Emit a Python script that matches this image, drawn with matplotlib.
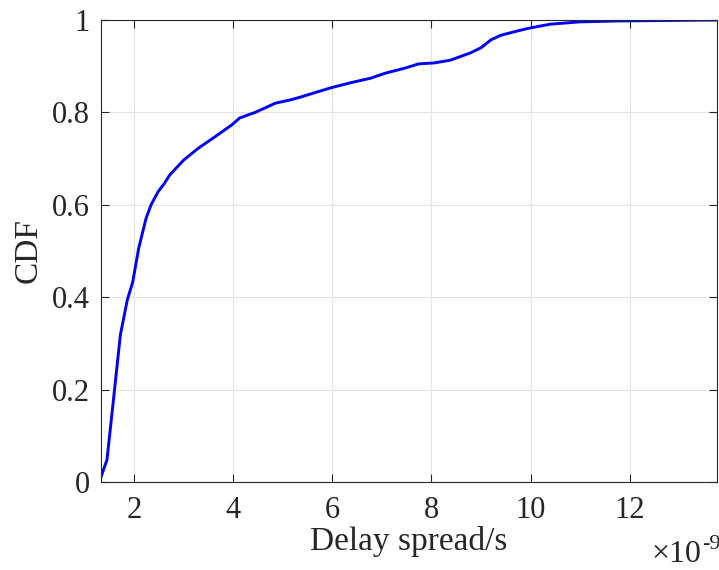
import numpy as np
import matplotlib.pyplot as plt

plt.rcParams['font.family'] = ['Liberation Serif', 'DejaVu Serif']

# delay spread in ns (axis multiplier 1e-9) and CDF values
delay_ns = [1.33, 1.45, 1.58, 1.72, 1.86, 1.97, 2.09, 2.24, 2.34, 2.48, 2.6, 2.72,
            3.0, 3.3, 3.6, 3.97, 4.13, 4.44, 4.85, 5.15, 5.35, 5.96, 6.36, 6.77,
            7.07, 7.47, 7.74, 8.05, 8.38, 8.79, 9.0, 9.2, 9.4, 9.8, 10.0, 10.4,
            11.0, 11.8, 13.76]
cdf = [0.011, 0.048, 0.177, 0.318, 0.394, 0.433, 0.506, 0.571, 0.6, 0.628, 0.645, 0.665,
       0.697, 0.723, 0.745, 0.773, 0.788, 0.80, 0.82, 0.827, 0.833, 0.853, 0.864, 0.874,
       0.885, 0.896, 0.905, 0.907, 0.913, 0.929, 0.94, 0.957, 0.967, 0.978, 0.983, 0.991,
       0.996, 0.998, 1.0]

xticks = [2, 4, 6, 8, 10, 12]
yticks = [0, 0.2, 0.4, 0.6, 0.8, 1]
yticklabels = ['0', '0.2', '0.4', '0.6', '0.8', '1']

fig = plt.figure(figsize=(7.19, 5.70), dpi=100)
ax = fig.add_axes([0.1405, 0.1544, 0.8565, 0.8105])

ax.plot(delay_ns, cdf, color='#0000ff', linewidth=2.1)

ax.set_xlim(1.33, 13.76)
ax.set_ylim(0, 1)
ax.set_xticks(xticks)
ax.set_yticks(yticks)
ax.set_yticklabels(yticklabels)
ax.tick_params(direction='in', length=6, width=0.8, labelsize=22, colors='#262626',
               top=True, right=True)
ax.tick_params(axis='x', pad=10)
ax.tick_params(axis='y', pad=8)
ax.grid(True, color='#e3e3e3', linewidth=0.8)
ax.set_axisbelow(True)
for s in ax.spines.values():
    s.set_color('#262626')
    s.set_linewidth(0.8)

ax.set_xlabel('Delay spread/s', fontsize=24, color='#262626', labelpad=1)
ax.set_ylabel('CDF', fontsize=24, color='#262626', labelpad=6)
# axis multiplier, MATLAB style
ax.text(0.9756, -0.1732, '×10', transform=ax.transAxes, ha='right', va='baseline',
        fontsize=23, color='#262626')
ax.text(0.9756, -0.1450, '-9', transform=ax.transAxes, ha='left', va='baseline',
        fontsize=16, color='#262626')

fig.savefig('out.png', dpi=100)
